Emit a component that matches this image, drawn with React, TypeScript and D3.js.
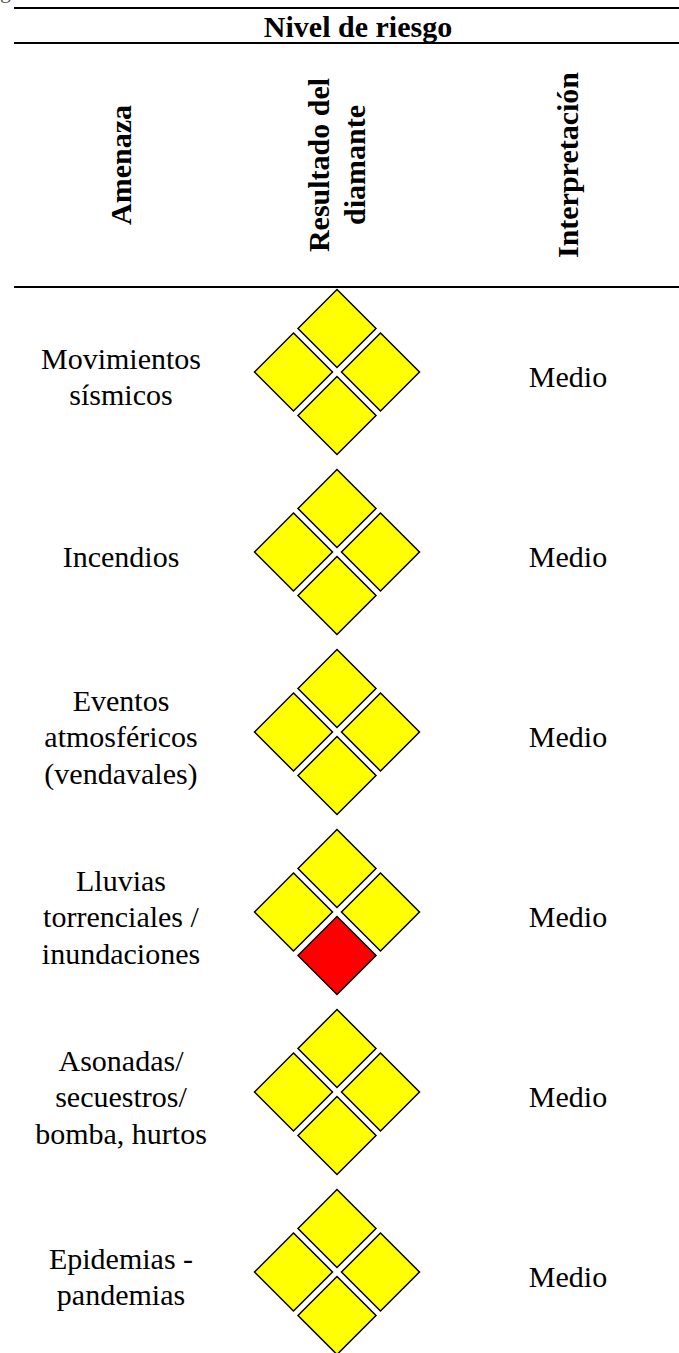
import { useEffect } from 'react';
import * as d3 from 'd3';

// table content
const amenazas: string[][] = [
	['Movimientos', 'sísmicos'],
	['Incendios'],
	['Eventos', 'atmosféricos', '(vendavales)'],
	['Lluvias', 'torrenciales /', 'inundaciones'],
	['Asonadas/', 'secuestros/', 'bomba, hurtos'],
	['Epidemias -', 'pandemias'],
];

// rombos: [arriba, izquierda, derecha, abajo]
const rombos: string[][] = [
	['medio', 'medio', 'medio', 'medio'],
	['medio', 'medio', 'medio', 'medio'],
	['medio', 'medio', 'medio', 'medio'],
	['medio', 'medio', 'medio', 'alto'],
	['medio', 'medio', 'medio', 'medio'],
	['medio', 'medio', 'medio', 'medio'],
];

const interpretaciones = ['Medio', 'Medio', 'Medio', 'Medio', 'Medio', 'Medio'];

const headerTitle = 'Nivel de riesgo';
const columnHeaders: string[][] = [['Amenaza'], ['Resultado del', 'diamante'], ['Interpretación']];

const niveles = ['bajo', 'medio', 'alto'];
const nivelColores = ['#00B050', '#FFFF00', '#FF0000'];

const App = () => {
	const width = 679;
	const height = 1353;
	const fontSize = 30;
	const lineH = 36.5;
	const textStyle = { fontFamily: "'Liberation Serif', 'Times New Roman', Times, serif" };

	useEffect(() => {
		document.body.style.margin = '0';
	}, []);

	// rows
	const y = d3
		.scaleBand<number>()
		.domain(amenazas.map((_, i) => i))
		.range([282, 1362]);

	// columns
	const x = d3.scaleOrdinal<number, number>().domain([0, 1, 2]).range([121, 337, 568]);

	const color = d3.scaleOrdinal<string, string>().domain(niveles).range(nivelColores);

	// small diamond geometry
	const h = 39;
	const d = 43.5;
	const offsets: [number, number][] = [
		[0, -d],
		[-d, 0],
		[d, 0],
		[0, d],
	];
	const diamond = d3.line().curve(d3.curveLinearClosed);
	const diamondPath = (cx: number, cy: number) =>
		diamond([
			[cx, cy - h],
			[cx + h, cy],
			[cx, cy + h],
			[cx - h, cy],
		]) as string;

	const rowCenter = (i: number) => (y(i) as number) + y.bandwidth() / 2;

	return (
		<svg
			width={width}
			height={height}
			style={{ display: 'block', position: 'absolute', left: 0, top: 0, background: '#fff' }}
		>
			{/* caption of the page above, cut by the crop */}
			<text x={22} y={-2} textAnchor="end" style={textStyle} fontSize={22} fill="#555">
				{headerTitle}
			</text>

			{/* rules */}
			<line x1={14} x2={width} y1={8} y2={8} stroke="#000" strokeWidth={2} />
			<line x1={14} x2={width} y1={43} y2={43} stroke="#000" strokeWidth={2} />
			<line x1={14} x2={width} y1={287} y2={287} stroke="#000" strokeWidth={2} />

			<text x={358} y={37} textAnchor="middle" style={textStyle} fontSize={fontSize} fontWeight="bold">
				{headerTitle}
			</text>

			{columnHeaders.map((lines, c) => (
				<text
					key={c}
					transform={`translate(${x(c)}, 165) rotate(-90)`}
					textAnchor="middle"
					style={textStyle}
					fontSize={fontSize}
					fontWeight="bold"
				>
					{lines.map((t, k) => (
						<tspan key={k} x={0} y={(k - (lines.length - 1) / 2) * lineH + 10}>
							{t}
						</tspan>
					))}
				</text>
			))}

			{amenazas.map((lines, i) => {
				const cy = rowCenter(i);
				return (
					<g key={i}>
						<text textAnchor="middle" style={textStyle} fontSize={fontSize}>
							{lines.map((t, k) => (
								<tspan key={k} x={x(0)} y={cy + (k - (lines.length - 1) / 2) * lineH + 15}>
									{t}
								</tspan>
							))}
						</text>
						{rombos[i].map((nivel, k) => (
							<path
								key={k}
								d={diamondPath(x(1) + offsets[k][0], cy + offsets[k][1])}
								fill={color(nivel)}
								stroke="#000"
								strokeWidth={1.5}
							/>
						))}
						<text x={x(2)} y={cy + 15} textAnchor="middle" style={textStyle} fontSize={fontSize}>
							{interpretaciones[i]}
						</text>
					</g>
				);
			})}
		</svg>
	);
};

export default App;
